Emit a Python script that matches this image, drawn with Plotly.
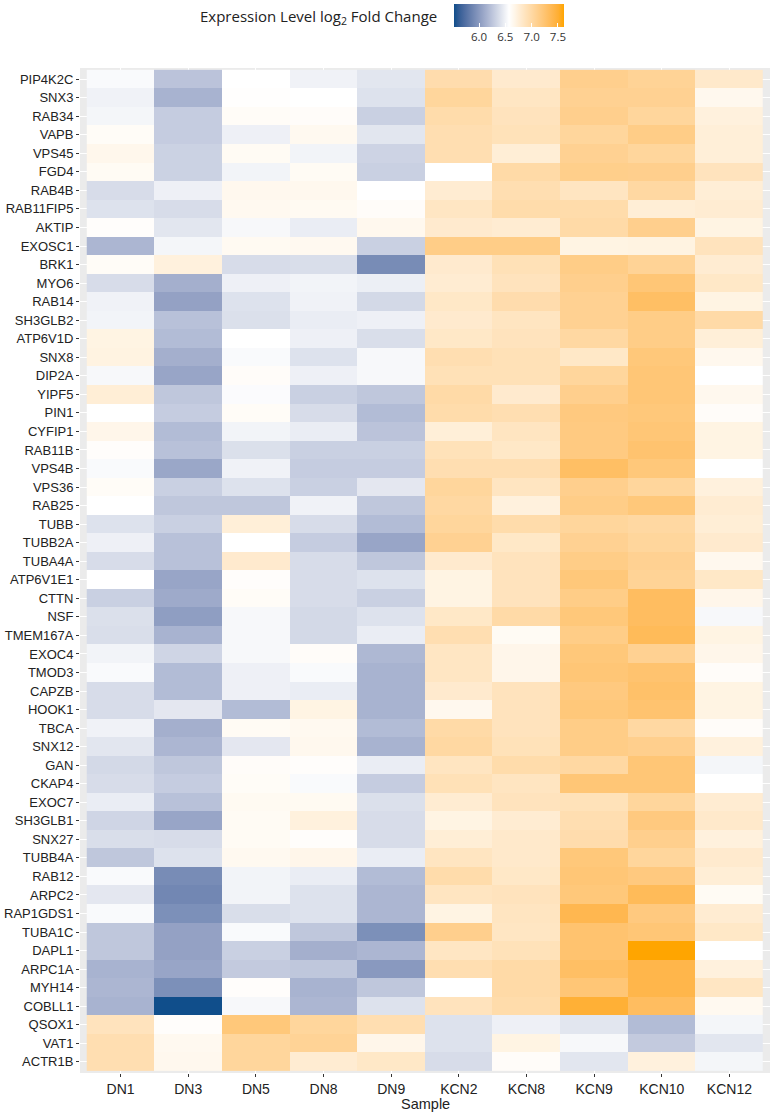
import plotly.graph_objects as go

genes = ['PIP4K2C', 'SNX3', 'RAB34', 'VAPB', 'VPS45', 'FGD4', 'RAB4B', 'RAB11FIP5', 'AKTIP',
         'EXOSC1', 'BRK1', 'MYO6', 'RAB14', 'SH3GLB2', 'ATP6V1D', 'SNX8', 'DIP2A', 'YIPF5',
         'PIN1', 'CYFIP1', 'RAB11B', 'VPS4B', 'VPS36', 'RAB25', 'TUBB', 'TUBB2A', 'TUBA4A',
         'ATP6V1E1', 'CTTN', 'NSF', 'TMEM167A', 'EXOC4', 'TMOD3', 'CAPZB', 'HOOK1', 'TBCA',
         'SNX12', 'GAN', 'CKAP4', 'EXOC7', 'SH3GLB1', 'SNX27', 'TUBB4A', 'RAB12', 'ARPC2',
         'RAP1GDS1', 'TUBA1C', 'DAPL1', 'ARPC1A', 'MYH14', 'COBLL1', 'QSOX1', 'VAT1', 'ACTR1B']
samples = ['DN1', 'DN3', 'DN5', 'DN8', 'DN9', 'KCN2', 'KCN8', 'KCN9', 'KCN10', 'KCN12']

# expression per sample, one value per gene (top to bottom)
dn1 = [6.54, 6.50, 6.52, 6.61, 6.66, 6.62, 6.38, 6.41, 6.59, 6.17, 6.61, 6.38, 6.50, 6.51,
       6.70, 6.71, 6.53, 6.76, 6.57, 6.67, 6.59, 6.54, 6.61, 6.57, 6.41, 6.49, 6.38, 6.57,
       6.31, 6.40, 6.39, 6.51, 6.54, 6.38, 6.38, 6.50, 6.43, 6.36, 6.38, 6.47, 6.34, 6.39,
       6.26, 6.54, 6.44, 6.54, 6.26, 6.26, 6.15, 6.17, 6.15, 6.88, 6.94, 6.94]
dn3 = [6.24, 6.15, 6.29, 6.29, 6.32, 6.32, 6.49, 6.38, 6.43, 6.52, 6.73, 6.13, 6.05, 6.23,
       6.20, 6.13, 6.07, 6.26, 6.29, 6.20, 6.23, 6.08, 6.31, 6.26, 6.31, 6.23, 6.23, 6.07,
       6.10, 6.03, 6.15, 6.34, 6.20, 6.20, 6.44, 6.13, 6.17, 6.26, 6.29, 6.23, 6.07, 6.38,
       6.41, 5.92, 5.89, 5.94, 6.05, 6.05, 6.07, 5.94, 5.525, 6.59, 6.64, 6.65]
dn5 = [6.57, 6.58, 6.61, 6.49, 6.62, 6.51, 6.65, 6.64, 6.53, 6.63, 6.38, 6.49, 6.41, 6.40,
       6.57, 6.54, 6.60, 6.55, 6.61, 6.51, 6.40, 6.50, 6.41, 6.26, 6.75, 6.57, 6.80, 6.59,
       6.61, 6.53, 6.53, 6.53, 6.49, 6.49, 6.20, 6.62, 6.44, 6.60, 6.61, 6.63, 6.62, 6.62,
       6.64, 6.51, 6.51, 6.39, 6.54, 6.31, 6.28, 6.59, 6.53, 7.20, 7.04, 7.04]
dn8 = [6.50, 6.57, 6.60, 6.64, 6.51, 6.62, 6.65, 6.63, 6.47, 6.64, 6.39, 6.51, 6.50, 6.47,
       6.49, 6.41, 6.49, 6.31, 6.38, 6.47, 6.31, 6.29, 6.31, 6.50, 6.38, 6.29, 6.38, 6.38,
       6.38, 6.36, 6.36, 6.60, 6.54, 6.47, 6.70, 6.64, 6.65, 6.59, 6.54, 6.63, 6.73, 6.59,
       6.67, 6.47, 6.41, 6.41, 6.26, 6.13, 6.26, 6.15, 6.17, 7.04, 7.07, 6.78]
dn9 = [6.43, 6.41, 6.31, 6.43, 6.33, 6.31, 6.57, 6.60, 6.65, 6.31, 5.92, 6.48, 6.36, 6.49,
       6.39, 6.53, 6.53, 6.26, 6.20, 6.24, 6.31, 6.29, 6.44, 6.26, 6.20, 6.07, 6.26, 6.41,
       6.31, 6.41, 6.47, 6.18, 6.15, 6.15, 6.15, 6.20, 6.15, 6.47, 6.29, 6.40, 6.38, 6.38,
       6.47, 6.20, 6.17, 6.17, 5.94, 6.17, 6.00, 6.26, 6.41, 6.94, 6.67, 6.83]
kcn2 = [6.96, 7.04, 6.97, 6.94, 6.94, 6.57, 6.78, 6.85, 6.80, 7.14, 6.80, 6.78, 6.83, 6.80,
        6.83, 6.94, 6.91, 6.99, 6.97, 6.75, 6.90, 6.94, 7.04, 7.01, 7.04, 7.09, 6.80, 6.70,
        6.70, 6.83, 6.94, 6.85, 6.85, 6.80, 6.65, 6.99, 7.01, 6.86, 6.91, 6.78, 6.70, 6.76,
        6.86, 6.97, 6.86, 6.70, 7.11, 6.85, 6.94, 6.57, 6.88, 6.41, 6.41, 6.38]
kcn8 = [6.80, 6.85, 6.88, 6.90, 6.76, 6.99, 6.94, 6.97, 6.78, 7.14, 6.91, 6.88, 6.96, 6.86,
        6.88, 6.91, 6.91, 6.80, 6.94, 6.86, 6.83, 6.94, 6.86, 6.73, 6.97, 6.83, 6.88, 6.88,
        6.88, 6.99, 6.62, 6.67, 6.67, 6.88, 6.88, 6.88, 6.90, 6.97, 6.86, 6.88, 6.78, 6.81,
        6.81, 6.83, 6.88, 6.86, 6.85, 6.90, 6.99, 6.99, 6.97, 6.49, 6.70, 6.60]
kcn9 = [7.11, 7.09, 7.11, 7.04, 7.09, 7.12, 6.86, 6.97, 6.99, 6.70, 7.14, 7.11, 7.09, 7.09,
        7.01, 6.83, 7.04, 7.11, 7.18, 7.17, 7.17, 7.30, 7.11, 7.14, 7.04, 7.09, 7.14, 7.20,
        7.14, 7.20, 7.14, 7.20, 7.22, 7.18, 7.20, 7.14, 7.14, 7.01, 7.22, 6.90, 6.94, 6.96,
        7.20, 7.22, 7.20, 7.39, 7.25, 7.25, 7.30, 7.22, 7.49, 6.43, 6.53, 6.43]
kcn10 = [7.07, 7.09, 7.04, 7.14, 7.04, 7.11, 7.01, 6.76, 7.11, 6.71, 7.07, 7.22, 7.30, 7.14,
         7.14, 7.20, 7.22, 7.22, 7.20, 7.22, 7.25, 7.20, 7.04, 7.20, 7.01, 7.04, 7.09, 7.07,
         7.32, 7.32, 7.35, 7.09, 7.25, 7.28, 7.25, 7.01, 7.11, 7.22, 7.22, 7.04, 7.18, 7.11,
         7.04, 7.18, 7.35, 7.18, 7.22, 7.615, 7.41, 7.41, 7.32, 6.20, 6.28, 6.73]
kcn12 = [6.81, 6.65, 6.73, 6.75, 6.75, 6.88, 6.76, 6.78, 6.70, 6.88, 6.78, 6.83, 6.70, 6.99,
         6.75, 6.65, 6.57, 6.65, 6.60, 6.70, 6.70, 6.57, 6.73, 6.78, 6.76, 6.80, 6.65, 6.83,
         6.67, 6.53, 6.70, 6.67, 6.60, 6.70, 6.70, 6.60, 6.73, 6.52, 6.57, 6.78, 6.81, 6.73,
         6.80, 6.76, 6.62, 6.78, 6.83, 6.57, 6.73, 6.85, 6.64, 6.52, 6.43, 6.52]

colorbar_ticks = [6.0, 6.5, 7.0, 7.5]
z_low, z_high = 5.525, 7.615


# ggplot-style gradient2 (dodgerblue4 -> white -> orange), interpolated in Lab
def hex_to_lab(h):
    rgb = [int(h[i:i + 2], 16) / 255 for i in (1, 3, 5)]
    lin = [c / 12.92 if c <= 0.04045 else ((c + 0.055) / 1.055) ** 2.4 for c in rgb]
    x = (0.4124 * lin[0] + 0.3576 * lin[1] + 0.1805 * lin[2]) / 0.95047
    y = 0.2126 * lin[0] + 0.7152 * lin[1] + 0.0722 * lin[2]
    z = (0.0193 * lin[0] + 0.1192 * lin[1] + 0.9505 * lin[2]) / 1.08883
    f = lambda t: t ** (1 / 3) if t > 0.008856 else 7.787 * t + 16 / 116
    return 116 * f(y) - 16, 500 * (f(x) - f(y)), 200 * (f(y) - f(z))


def lab_to_hex(L, a, b):
    fy = (L + 16) / 116
    fx, fz = fy + a / 500, fy - b / 200
    g = lambda t: t ** 3 if t ** 3 > 0.008856 else (t - 16 / 116) / 7.787
    x, y, z = g(fx) * 0.95047, g(fy), g(fz) * 1.08883
    lin = [3.2406 * x - 1.5372 * y - 0.4986 * z,
           -0.9689 * x + 1.8758 * y + 0.0415 * z,
           0.0557 * x - 0.2040 * y + 1.0570 * z]
    out = []
    for c in lin:
        c = 12.92 * c if c <= 0.0031308 else 1.055 * c ** (1 / 2.4) - 0.055
        out.append(max(0, min(255, round(c * 255))))
    return '#%02x%02x%02x' % tuple(out)


def ramp(c0, c1, n):
    l0, l1 = hex_to_lab(c0), hex_to_lab(c1)
    return [lab_to_hex(*[l0[k] + (l1[k] - l0[k]) * i / n for k in range(3)]) for i in range(n + 1)]


steps = 10
cols = ramp('#104E8B', '#FFFFFF', steps) + ramp('#FFFFFF', '#FFA500', steps)[1:]
colorscale = [[i / (len(cols) - 1), c] for i, c in enumerate(cols)]

z = [list(r) for r in zip(dn1, dn3, dn5, dn8, dn9, kcn2, kcn8, kcn9, kcn10, kcn12)]

fig = go.Figure(go.Heatmap(
    z=z, x=samples, y=genes,
    zmin=z_low, zmax=z_high,
    colorscale=colorscale,
    colorbar=dict(
        orientation='h', lenmode='pixels', len=110, thickness=23,
        x=(454 - 80) / 690, xanchor='left', y=1 + 64 / 1005, yanchor='top',
        xpad=0, ypad=0, outlinewidth=0,
        tickvals=colorbar_ticks, ticktext=['6.0', '6.5', '7.0', '7.5'],
        ticks='inside', ticklen=4, tickcolor='white',
        tickfont=dict(family='Open Sans', size=11.5, color='#333333'),
    ),
))

fig.add_annotation(
    text='Expression Level log<sub>2</sub> Fold Change',
    xref='paper', yref='paper', x=(439 - 80) / 690, y=1 + 51 / 1005,
    xanchor='right', yanchor='middle', showarrow=False,
    font=dict(family='Open Sans', size=15, color='#222222'),
)
# x axis title, placed like the ggplot one
fig.add_annotation(
    text='Sample', xref='paper', yref='paper', x=0.5, y=-(1104 - 1073) / 1005,
    xanchor='center', yanchor='middle', showarrow=False,
    font=dict(family='Liberation Sans, Arial', size=14.5, color='#222222'),
)

fig.update_layout(
    width=771, height=1113,
    margin=dict(l=80, r=1, t=68, b=40),
    paper_bgcolor='white', plot_bgcolor='#EBEBEB',
    font=dict(family='Liberation Sans, Arial', color='#222222'),
)
fig.update_xaxes(
    type='category', range=[-0.6, 9.6], showgrid=True, gridcolor='white', gridwidth=1,
    ticks='outside', ticklen=3, tickcolor='#333333', zeroline=False,
    tickfont=dict(family='Liberation Sans, Arial', size=14, color='#222222'),
)
fig.update_yaxes(
    type='category', range=[53.6, -0.6], showgrid=True, gridcolor='white', gridwidth=1,
    ticks='outside', ticklen=3, tickcolor='#333333', zeroline=False,
    tickfont=dict(family='Liberation Sans, Arial', size=13, color='#222222'),
)

# drop the default page margin so the figure sits at the window's top-left corner
fig.write_html("out.html", config={'displayModeBar': False},
               post_script="document.body.style.margin = '0';")
